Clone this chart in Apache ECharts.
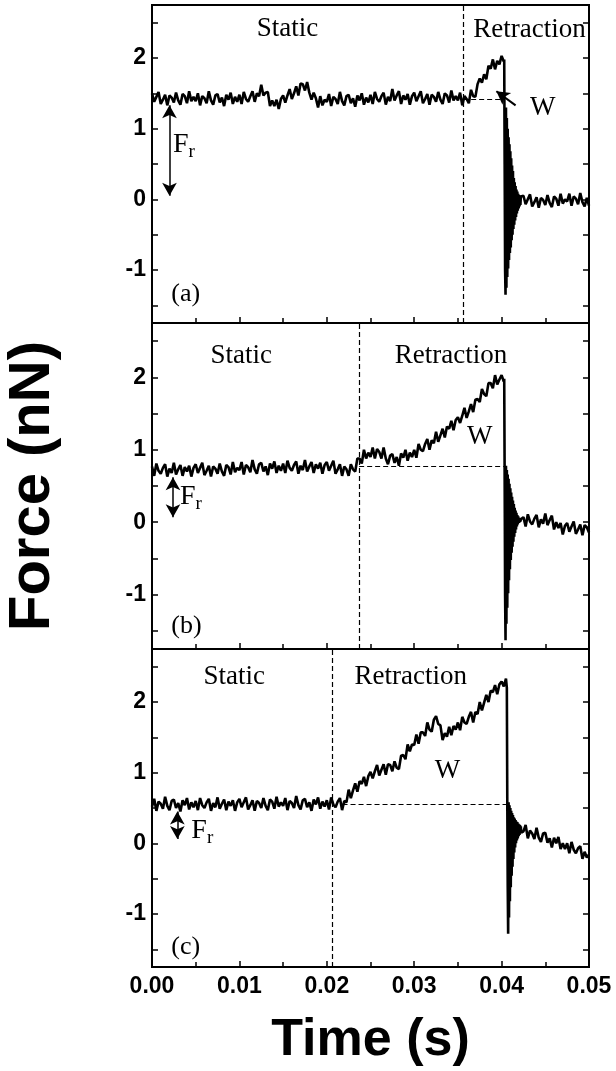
<!DOCTYPE html>
<html>
<head>
<meta charset="utf-8">
<title>Force vs time</title>
<script src="https://cdn.jsdelivr.net/npm/echarts@6/dist/echarts.min.js"></script>
</head>
<body style="margin:0;background:#fff">
<div id="main" style="width:616px;height:1071px;"></div>
<script type="text/javascript">
// force traces (nN)
var baseStep = 0.00025;  // s, sampling of the slow part
var ringStep = 0.00005;  // s, sampling of the ringing after snap-off
var tailStart = 0.0425;  // s, first sample after the ringing

var forceA = [
  1.50,1.38,1.45,1.52,1.35,1.41,1.48,1.33,1.47,1.44,1.37,1.51,1.40,1.34,1.49,1.46,1.36,1.53,1.39,1.45,
  1.39,1.50,1.33,1.46,1.43,1.36,1.53,1.40,1.34,1.47,1.49,1.37,1.44,1.32,1.48,1.41,1.51,1.35,1.45,1.38,
  1.48,1.35,1.52,1.42,1.38,1.46,1.53,1.38,1.50,1.46,1.62,1.47,1.51,1.52,1.32,1.40,1.32,1.41,1.28,1.42,
  1.47,1.37,1.47,1.56,1.42,1.50,1.60,1.47,1.64,1.63,1.54,1.66,1.51,1.41,1.51,1.43,1.30,1.46,1.33,1.41,
  1.38,1.49,1.32,1.45,1.42,1.35,1.52,1.39,1.33,1.46,1.48,1.36,1.43,1.31,1.47,1.40,1.50,1.34,1.44,1.37,
  1.48,1.35,1.52,1.42,1.38,1.46,1.51,1.34,1.45,1.39,1.56,1.40,1.47,1.53,1.35,1.47,1.41,1.49,1.34,1.46,
  1.51,1.39,1.46,1.53,1.36,1.42,1.49,1.34,1.48,1.45,1.38,1.52,1.41,1.35,1.50,1.47,1.37,1.54,1.40,1.46,
  1.40,1.51,1.33,1.46,1.42,1.36,1.55,1.46,1.45,1.63,1.71,1.65,1.77,1.70,1.89,1.85,1.98,1.84,1.96,1.91,2.03,1.95
];
var ringStartA = 0.0403;
var ringA = [
  1.98,0.50,-1.00,-1.35,1.30,-1.25,1.15,-1.10,1.00,-0.98,
  0.88,-0.86,0.78,-0.76,0.68,-0.68,0.58,-0.58,0.48,-0.50,
  0.40,-0.42,0.30,-0.36,0.24,-0.30,0.19,-0.25,0.14,-0.20,
  0.11,-0.16,0.08,-0.13,0.06,-0.10,0.05,-0.08,0.04
];
var tailA = [
  0.05,-0.07,0.00,0.07,-0.10,-0.04,0.03,-0.12,0.02,-0.01,
  -0.08,0.06,-0.05,-0.11,0.04,0.01,-0.09,0.08,-0.06,0.00,
  -0.03,0.08,-0.09,0.04,0.01,-0.07,0.09,-0.04,-0.10,0.02,-0.09
];

var forceB = [
  0.77,0.64,0.81,0.71,0.67,0.75,0.80,0.63,0.74,0.68,0.82,0.66,0.73,0.79,0.64,0.76,0.70,0.78,0.63,0.75,
  0.80,0.68,0.75,0.82,0.65,0.71,0.78,0.63,0.77,0.74,0.67,0.81,0.70,0.64,0.79,0.76,0.66,0.83,0.69,0.75,
  0.72,0.83,0.66,0.79,0.76,0.69,0.86,0.73,0.67,0.80,0.82,0.70,0.77,0.65,0.81,0.74,0.84,0.68,0.78,0.71,
  0.81,0.68,0.85,0.75,0.71,0.79,0.84,0.67,0.78,0.72,0.86,0.70,0.77,0.83,0.68,0.80,0.74,0.82,0.67,0.79,
  0.83,0.71,0.78,0.85,0.67,0.73,0.80,0.64,0.77,0.73,0.64,0.80,0.73,0.70,0.88,0.88,0.81,1.00,0.88,0.96,
  0.90,1.03,0.88,1.01,0.97,0.88,1.03,0.88,0.80,0.92,0.94,0.82,0.90,0.78,0.95,0.89,1.00,0.85,0.96,0.90,
  1.00,0.89,1.08,1.00,0.98,1.08,1.15,1.00,1.13,1.09,1.25,1.11,1.20,1.29,1.17,1.32,1.29,1.40,1.27,1.41,
  1.45,1.37,1.47,1.58,1.44,1.53,1.63,1.52,1.69,1.70,1.66,1.84,1.77,1.74,1.92,1.92,1.85,2.03,1.90,1.97,2.03,1.94
];
var ringStartB = 0.0403;
var ringB = [
  1.98,0.60,-1.00,-1.63,0.78,-1.40,0.72,-1.18,0.66,-0.98,
  0.60,-0.80,0.53,-0.65,0.47,-0.52,0.41,-0.42,0.35,-0.34,
  0.30,-0.27,0.25,-0.20,0.20,-0.15,0.16,-0.10,0.13,-0.06,
  0.10,-0.03,0.08,-0.01,0.06,0.00,0.05,0.01,0.04
];
var tailB = [
  0.07,-0.06,0.11,0.01,-0.03,0.05,0.10,-0.07,0.04,-0.02,
  0.12,-0.04,0.03,0.09,-0.10,0.00,-0.08,-0.01,-0.17,-0.05,
  -0.01,-0.13,-0.06,0.01,-0.16,-0.10,-0.03,-0.18,-0.04,-0.07,-0.14
];

var forceC = [
  0.52,0.63,0.46,0.59,0.56,0.49,0.66,0.53,0.47,0.60,0.62,0.50,0.57,0.45,0.61,0.54,0.64,0.48,0.58,0.51,
  0.60,0.47,0.64,0.54,0.50,0.58,0.63,0.46,0.57,0.51,0.65,0.49,0.56,0.62,0.47,0.59,0.53,0.61,0.46,0.58,
  0.63,0.51,0.58,0.65,0.48,0.54,0.61,0.46,0.60,0.57,0.50,0.64,0.53,0.47,0.62,0.59,0.49,0.66,0.52,0.58,
  0.53,0.64,0.47,0.60,0.57,0.50,0.67,0.54,0.48,0.61,0.63,0.51,0.58,0.46,0.62,0.55,0.65,0.49,0.59,0.52,
  0.61,0.48,0.65,0.55,0.51,0.59,0.64,0.47,0.60,0.58,0.76,0.64,0.75,0.85,0.73,0.88,0.84,0.94,0.81,0.95,
  1.01,0.92,1.02,1.11,0.96,1.04,1.12,0.97,1.12,1.11,1.02,1.16,1.07,1.05,1.24,1.25,1.19,1.40,1.30,1.40,
  1.39,1.54,1.41,1.57,1.57,1.52,1.71,1.61,1.58,1.75,1.80,1.69,1.67,1.46,1.56,1.51,1.65,1.53,1.66,1.61,
  1.71,1.60,1.79,1.71,1.69,1.79,1.86,1.71,1.86,1.83,2.00,1.88,1.99,2.10,2.00,2.16,2.14,2.24,2.11,2.25,2.29,2.22,2.33
];
var ringStartC = 0.0406;
var ringC = [
  2.20,0.60,-0.60,-1.28,0.58,-1.05,0.54,-0.82,0.50,-0.62,
  0.46,-0.46,0.43,-0.33,0.40,-0.22,0.37,-0.13,0.35,-0.06,
  0.33,0.00,0.31,0.04,0.30,0.07,0.28,0.10,0.27,0.12,
  0.26,0.14,0.24,0.15
];
var tailC = [
  0.17,0.26,0.07,0.18,0.14,0.06,0.22,0.08,0.02,0.14,
  0.15,0.01,0.07,-0.06,0.08,0.00,0.09,-0.08,0.00,-0.08,
  0.00,-0.14,0.02,-0.09,-0.14,-0.07,-0.04,-0.22,-0.12,-0.20,-0.16
];

// phase boundary (s), static level (nN) and span of the W baseline (s)
var splitTimes = [0.0356, 0.0237, 0.0206];
var staticLevels = [1.41, 0.77, 0.556];
var levelStarts = [0.0356, 0.0237, 0.0218];
var levelEnds = [0.0404, 0.0404, 0.0405];

var forceMin = -1.75, forceMax = 2.75;
var forceTicks = [-1.5, -1, -0.5, 0, 0.5, 1, 1.5, 2, 2.5];
var forceLabels = [-1, 0, 1, 2];

function trace(base, ringStart, ring, tail) {
  var pts = [];
  base.forEach(function (v, i) { pts.push([i * baseStep, v]); });
  ring.forEach(function (v, i) { pts.push([ringStart + i * ringStep, v]); });
  tail.forEach(function (v, i) { pts.push([tailStart + i * baseStep, v]); });
  return pts;
}

var traces = [
  trace(forceA, ringStartA, ringA, tailA),
  trace(forceB, ringStartB, ringB, tailB),
  trace(forceC, ringStartC, ringC, tailC)
];

// annotation placement, in data coordinates
var notes = [
  { tag: '(a)', tagAt: [0.0022, -1.34], staticAt: [0.0155, 2.41], retrAt: [0.0432, 2.40],
    wAt: [0.0447, 1.30], frArrow: [0.0020, 0.05, 1.33], frAt: [0.0024, 0.77],
    wArrow: [[0.0416, 1.33], [0.0394, 1.53]] },
  { tag: '(b)', tagAt: [0.0022, -1.44], staticAt: [0.0102, 2.29], retrAt: [0.0342, 2.29],
    wAt: [0.0375, 1.18], frArrow: [0.0024, 0.07, 0.62], frAt: [0.0032, 0.35] },
  { tag: '(c)', tagAt: [0.0022, -1.47], staticAt: [0.0094, 2.35], retrAt: [0.0296, 2.35],
    wAt: [0.0338, 1.02], frArrow: [0.0029, 0.06, 0.45], frAt: [0.0045, 0.18] }
];

var tops = [5, 323, 649];
var heights = [318, 326, 318];
var sans = 'Liberation Sans';
var serif = 'Liberation Serif';

function textLabel(txt, at, size, align) {
  return { coord: at, value: txt,
    label: { formatter: txt, fontSize: size, align: align || 'center' } };
}

var grids = [], xAxes = [], yAxes = [], series = [];
for (var g = 0; g < 3; g++) {
  grids.push({ left: 152, right: 27, top: tops[g], height: heights[g], outerBoundsMode: 'none',
    containLabel: false, show: true, borderColor: '#000', borderWidth: 2 });

  xAxes.push({
    type: 'value', gridIndex: g, min: 0, max: 0.05, interval: 0.01,
    axisLine: { onZero: false, lineStyle: { color: '#000', width: 2 } },
    axisTick: { inside: true, length: 6, lineStyle: { color: '#000', width: 1.5 } },
    minorTick: { show: true, splitNumber: 2, length: 5, lineStyle: { color: '#000', width: 1.5 } },
    splitLine: { show: false },
    axisLabel: { show: g === 2, color: '#000', fontFamily: sans, fontWeight: 'bold', fontSize: 23, margin: 8,
      formatter: function (v) { return v.toFixed(2); } },
    name: g === 2 ? 'Time (s)' : '', nameLocation: 'middle', nameGap: 48,
    nameTextStyle: { color: '#000', fontFamily: sans, fontWeight: 'bold', fontSize: 52 }
  });

  yAxes.push({
    type: 'value', gridIndex: g, min: forceMin, max: forceMax,
    axisLine: { show: true, onZero: false, lineStyle: { color: '#000', width: 2 } },
    axisTick: { show: true, inside: true, length: 6, customValues: forceTicks, lineStyle: { color: '#000', width: 1.5 } },
    axisLabel: { customValues: forceLabels, color: '#000', fontFamily: sans, fontWeight: 'bold', fontSize: 23, margin: 6 },
    splitLine: { show: false },
    name: g === 1 ? 'Force (nN)' : '', nameLocation: 'middle', nameGap: 90, nameRotate: 90,
    nameTextStyle: { color: '#000', fontFamily: sans, fontWeight: 'bold', fontSize: 58 }
  });
  yAxes.push({
    type: 'value', gridIndex: g, min: forceMin, max: forceMax, position: 'right',
    axisLine: { show: true, onZero: false, lineStyle: { color: '#000', width: 2 } },
    axisTick: { show: true, inside: true, length: 6, customValues: forceTicks, lineStyle: { color: '#000', width: 1.5 } },
    axisLabel: { show: false },
    splitLine: { show: false }
  });

  var n = notes[g];
  var lines = [
    [{ coord: [splitTimes[g], forceMin] }, { coord: [splitTimes[g], forceMax] }],
    [{ coord: [levelStarts[g], staticLevels[g]] }, { coord: [levelEnds[g], staticLevels[g]] }],
    [{ coord: [n.frArrow[0], n.frArrow[2]], symbol: 'arrow', lineStyle: { type: 'solid', width: 1.5 } },
     { coord: [n.frArrow[0], n.frArrow[1]], symbol: 'arrow' }]
  ];
  if (n.wArrow) {
    lines.push([{ coord: n.wArrow[0], symbol: 'none', lineStyle: { type: 'solid', width: 2 } },
                { coord: n.wArrow[1], symbol: 'arrow' }]);
  }

  series.push({
    type: 'line', xAxisIndex: g, yAxisIndex: 2 * g, data: traces[g],
    showSymbol: false, symbol: 'none', animation: false,
    lineStyle: { color: '#000', width: 2.6 },
    markLine: {
      silent: true, animation: false, symbol: 'none', symbolSize: [11, 13],
      label: { show: false },
      lineStyle: { color: '#000', type: [5, 3], width: 1.2 },
      data: lines
    },
    markPoint: {
      silent: true, animation: false, symbol: 'circle', symbolSize: 0,
      label: { show: true, position: 'inside', color: '#000', fontFamily: serif, verticalAlign: 'middle',
        rich: { f: { fontFamily: serif, fontSize: 28, color: '#000' },
                s: { fontFamily: serif, fontSize: 19, color: '#000', verticalAlign: 'bottom', padding: [14, 0, 0, 0] } } },
      data: [
        textLabel('Static', n.staticAt, 27),
        textLabel('Retraction', n.retrAt, 27),
        textLabel('W', n.wAt, 27),
        textLabel(n.tag, n.tagAt, 26, 'left'),
        { coord: n.frAt, value: 'Fr', label: { formatter: '{f|F}{s|r}', align: 'left' } }
      ]
    }
  });
}

var myChart = echarts.init(document.getElementById('main'));
myChart.setOption({
  animation: false,
  backgroundColor: '#fff',
  grid: grids,
  xAxis: xAxes,
  yAxis: yAxes,
  series: series
});
</script>
</body>
</html>
